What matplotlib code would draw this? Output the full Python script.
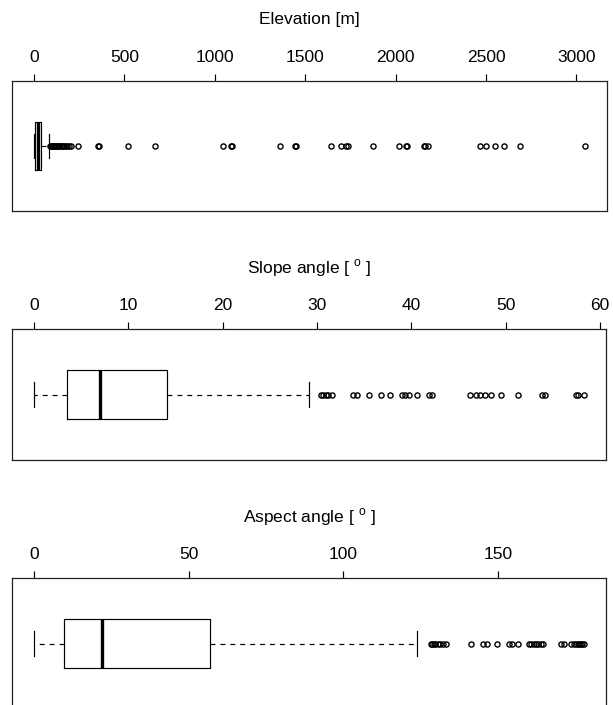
import numpy as np
import matplotlib
matplotlib.use("Agg")
import matplotlib.pyplot as plt

plt.rcParams['font.family'] = ['Liberation Sans', 'DejaVu Sans']
plt.rcParams['mathtext.fontset'] = 'custom'
plt.rcParams['mathtext.rm'] = 'Liberation Sans'
plt.rcParams['font.size'] = 12

# box stats: whisker low, q1, median, q3, whisker high
elev_stats = [0, 5, 22, 38, 85]
elev_out = [90, 95, 100, 105, 110, 115, 120, 126, 132, 138, 145, 152, 160, 168,
            176, 185, 195, 205, 243, 352, 362, 521, 668, 1045, 1089, 1093, 1359,
            1445, 1449, 1642, 1696, 1726, 1739, 1873, 2016, 2059, 2063, 2159,
            2163, 2180, 2465, 2500, 2552, 2597, 2690, 3047]
elev_ticks = [0, 500, 1000, 1500, 2000, 2500, 3000]

slope_stats = [0, 3.5, 7.0, 14.15, 29.1]
slope_out = [30.4, 30.6, 30.9, 31.2, 31.6, 33.8, 34.2, 35.5, 36.8, 37.7, 39.0,
             39.3, 39.7, 40.6, 41.9, 42.2, 46.25, 46.8, 47.3, 47.8, 48.4, 49.5,
             51.3, 53.9, 54.2, 57.4, 57.7, 58.3]
slope_ticks = [0, 10, 20, 30, 40, 50, 60]

aspect_stats = [0, 9.7, 22.0, 56.9, 123.8]
aspect_out = [128.5, 128.8, 129.3, 129.7, 130.5, 131.3, 132.3, 133.2, 141.2,
              145.0, 146.6, 149.6, 153.4, 154.5, 156.5, 159.9, 160.7, 161.7,
              162.3, 162.8, 163.9, 164.7, 170.3, 171.4, 173.5, 174.6, 175.2,
              175.7, 176.3, 176.8, 177.3, 177.8]
aspect_ticks = [0, 50, 100, 150]

titles = ['Elevation [m]', r'Slope angle [ $^\mathrm{o}$ ]', r'Aspect angle [ $^\mathrm{o}$ ]']

panels = [(elev_stats, elev_out, elev_ticks),
          (slope_stats, slope_out, slope_ticks),
          (aspect_stats, aspect_out, aspect_ticks)]

W, H = 613, 705
fig = plt.figure(figsize=(W / 100, H / 100), dpi=100)

# axes boxes in pixels: left, top, right, bottom
boxes = [(12, 81, 607, 211), (12, 329, 606, 460), (12, 578, 606, 709)]

lw = 0.85
for (st, out, ticks), title, (l, t, r, b) in zip(panels, titles, boxes):
    ax = fig.add_axes([l / W, 1 - b / H, (r - l) / W, (b - t) / H])
    bstats = [dict(whislo=st[0], q1=st[1], med=st[2], q3=st[3], whishi=st[4],
                   fliers=np.array(out))]
    ax.bxp(bstats, positions=[1], widths=0.4, orientation='horizontal',
           manage_ticks=False,
           boxprops=dict(color='black', linewidth=lw),
           medianprops=dict(color='black', linewidth=2.4, solid_capstyle='butt'),
           whiskerprops=dict(color='black', linewidth=lw, linestyle=(0, (4.2, 4.2))),
           capprops=dict(color='black', linewidth=lw),
           flierprops=dict(marker='o', markersize=3.7, markerfacecolor='none',
                           markeredgecolor='black', markeredgewidth=1.0))
    ax.margins(x=0.04)
    ax.autoscale_view()
    ax.set_ylim(0.46, 1.54)
    ax.set_yticks([])
    ax.set_xticks(ticks)
    ax.xaxis.tick_top()
    ax.tick_params(axis='x', direction='out', length=5.3, width=lw, pad=6.5,
                   labelsize=12.5, colors='black')
    for s in ax.spines.values():
        s.set_linewidth(0.9)
        s.set_color('#222222')
    ax.annotate(title, xy=(0.5, 1), xycoords='axes fraction', xytext=(0, 44),
                textcoords='offset points', ha='center', va='center', fontsize=12.5)

fig.savefig('out.png', dpi=100)
